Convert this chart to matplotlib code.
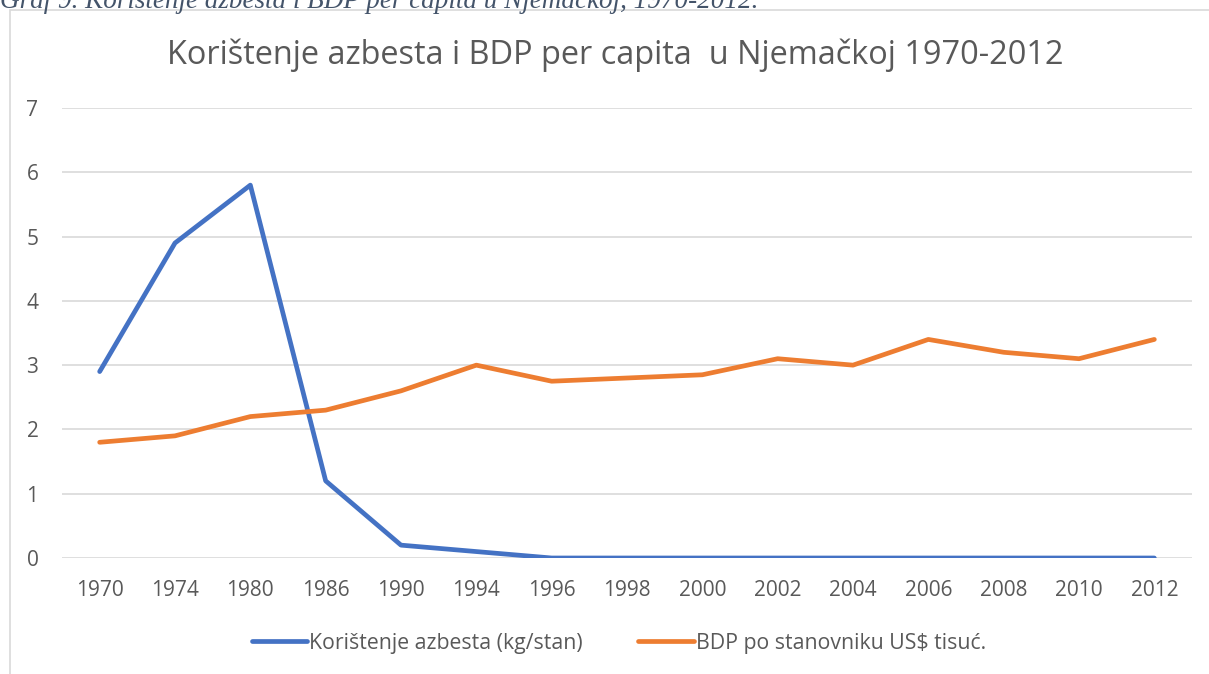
import matplotlib.pyplot as plt
from matplotlib.patches import Rectangle

godine = ['1970', '1974', '1980', '1986', '1990', '1994', '1996', '1998',
          '2000', '2002', '2004', '2006', '2008', '2010', '2012']
azbest = [2.9, 4.9, 5.8, 1.2, 0.2, 0.1, 0, 0, 0, 0, 0, 0, 0, 0, 0]
bdp = [1.8, 1.9, 2.2, 2.3, 2.6, 3.0, 2.75, 2.8, 2.85, 3.1, 3.0, 3.4, 3.2, 3.1, 3.4]

W, H = 1209, 674
fig = plt.figure(figsize=(W / 100, H / 100), dpi=100)

# okvir grafikona (ide preko ruba slike)
fig.patches.append(Rectangle((10 / W, -0.1), 1.2, 1 - 10 / H + 0.1,
                             transform=fig.transFigure, fill=False,
                             edgecolor='#D9D9D9', linewidth=1.2))

# odrezani naslov dokumenta
fig.text(0, 1 - 8 / H, 'Graf 9. Korištenje azbesta i BDP per capita u Njemačkoj, 1970-2012.',
         family='Liberation Serif', style='italic', fontsize=19.5, color='#44546A',
         ha='left', va='baseline')

ax = fig.add_axes([62 / W, (H - 558) / H, (1192 - 62) / W, (558 - 108) / H])
x = range(len(godine))
ax.plot(x, azbest, color='#4472C4', lw=3.4, solid_capstyle='round',
        solid_joinstyle='round', label='Korištenje azbesta (kg/stan)')
ax.plot(x, bdp, color='#ED7D31', lw=3.4, solid_capstyle='round',
        solid_joinstyle='round', label='BDP po stanovniku US$ tisuć.')

ax.set_xlim(-0.5, len(godine) - 0.5)
ax.set_ylim(0, 7)
ax.set_yticks(range(8))
ax.set_xticks(list(x))
ax.set_xticklabels(godine)
ax.grid(axis='y', color='#D9D9D9', lw=1.2)
ax.set_axisbelow(True)
for s in ax.spines.values():
    s.set_visible(False)
ax.tick_params(length=0, labelsize=15, labelcolor='#595959')
ax.tick_params(axis='x', pad=16)
ax.tick_params(axis='y', pad=17)
for lab in ax.get_xticklabels() + ax.get_yticklabels():
    lab.set_family('Open Sans')

fig.text(615 / W, 1 - 55 / H, 'Korištenje azbesta i BDP per capita  u Njemačkoj 1970-2012',
         family='Open Sans', fontsize=23.4, color='#595959', ha='center', va='center')

fig.legend(loc='center', bbox_to_anchor=(619 / W, (H - 643) / H), ncol=2, frameon=False,
           prop={'family': 'Open Sans', 'size': 15.3}, labelcolor='#595959',
           handlelength=2.6, handletextpad=0.1, columnspacing=2.6)

fig.savefig('out.png', dpi=100)
